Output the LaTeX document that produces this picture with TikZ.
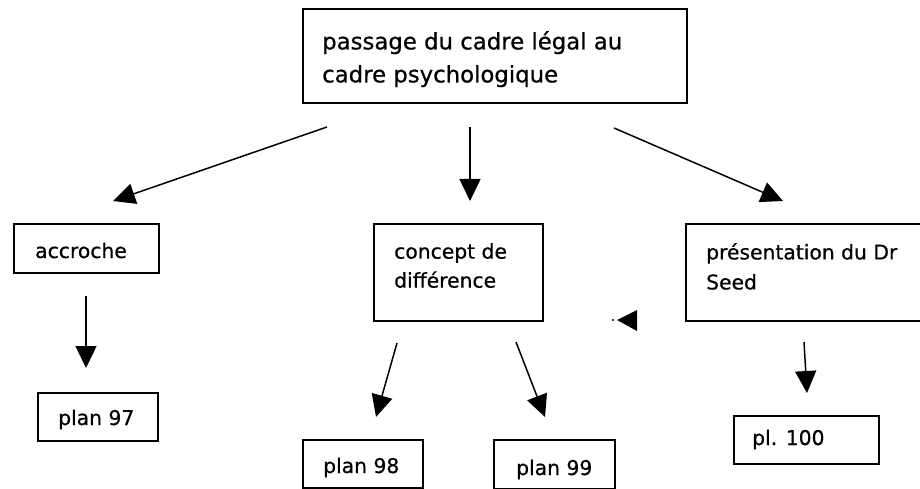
\documentclass[tikz,border=0pt]{standalone}
\usepackage{fontspec}
\setmainfont[FakeBold=0.6]{DejaVu Sans}
\usetikzlibrary{arrows.meta}
\tikzset{
  box/.style={draw, line width=1.8pt, inner sep=0pt, anchor=north west},
  txt/.style={inner sep=0pt, font=\fontsize{20.3}{29}\selectfont, align=left},
  conn/.style={line width=1.5pt, -{Triangle[length=22pt,width=21pt]}},
}
\begin{document}
\begin{tikzpicture}[x=1pt,y=-1pt]
\useasboundingbox (0,0) rectangle (920,489);
% boxes
\node[box, minimum width=384, minimum height=94] (top) at (302,8) {};
\node[box, minimum width=145, minimum height=49] (accr) at (13,223) {};
\node[box, minimum width=120, minimum height=48] (p97) at (37,392) {};
\node[box, minimum width=169, minimum height=97] (conc) at (373,223) {};
\node[box, minimum width=120, minimum height=48] (p98) at (302,439) {};
\node[box, minimum width=121, minimum height=49] (p99) at (493,439) {};
\node[box, minimum width=250, minimum height=97] (pres) at (685,223) {};
\node[box, minimum width=145, minimum height=48] (p100) at (733,415) {};
% texts
\node[txt, anchor=north west, font=\fontsize{22.8}{33}\selectfont] (ttop) at (322,31) {passage du cadre légal au\\cadre psychologique};
\node[txt, anchor=base west] (taccr) at (35,258) {accroche};
\node[txt, anchor=base west] (tp97) at (58,425) {plan 97};
\node[txt, anchor=north west] (tconc) at (394,243) {concept de\\différence};
\node[txt, anchor=base west] (tp98) at (323,473) {plan 98};
\node[txt, anchor=base west] (tp99) at (516,475) {plan 99};
\node[txt, anchor=north west, font=\fontsize{20.3}{30}\selectfont] (tpres) at (706,243) {présentation du Dr\\Seed};
\node[txt, anchor=base west] (tp100) at (752,445) {pl. 100};
% arrow end points
\coordinate (a1s) at (327,127); \coordinate (a1e) at (113,201);
\coordinate (a2s) at (470,127); \coordinate (a2e) at (470,201);
\coordinate (a3s) at (614,128); \coordinate (a3e) at (783,201);
\coordinate (a4s) at (86,296);  \coordinate (a4e) at (86,368);
\coordinate (a5s) at (397,343); \coordinate (a5e) at (376,417);
\coordinate (a6s) at (516,342); \coordinate (a6e) at (545,417);
\coordinate (a7s) at (804,342); \coordinate (a7e) at (807,393);
\draw[conn] (a1s) -- (a1e);
\draw[conn] (a2s) -- (a2e);
\draw[conn] (a3s) -- (a3e);
\draw[conn] (a4s) -- (a4e);
\draw[conn] (a5s) -- (a5e);
\draw[conn] (a6s) -- (a6e);
\draw[conn] (a7s) -- (a7e);
% stray arrowhead
\coordinate (st) at (617,320);
\fill (st) -- (637,310) -- (637,331) -- cycle;
\fill (613,320) circle (1.2);
\end{tikzpicture}
\end{document}
